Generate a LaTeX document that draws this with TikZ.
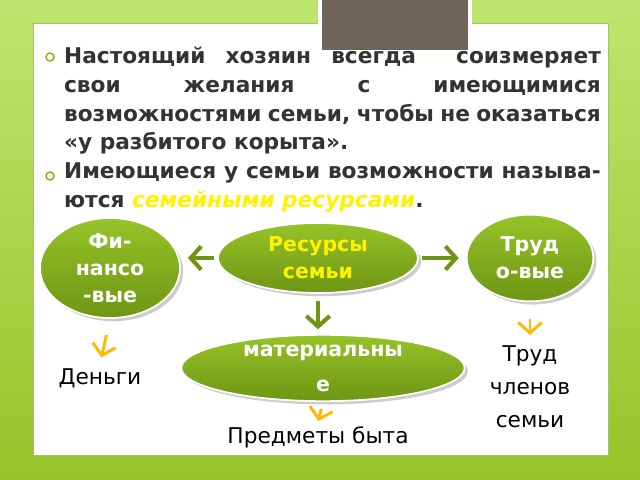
\documentclass[tikz,border=0pt]{standalone}
\usepackage{fontspec}
\setmainfont{DejaVu Sans}
\usetikzlibrary{arrows.meta, positioning, shapes.geometric, shadows}
\definecolor{leaf}{RGB}{110,150,20}
\definecolor{leaflight}{RGB}{150,195,40}
\definecolor{bgreen}{RGB}{190,230,110}
\definecolor{chev}{RGB}{255,185,0}
\definecolor{slate}{RGB}{110,100,90}
\begin{document}
\begin{tikzpicture}[x=0.03cm, y=-0.03cm, >={Straight Barb[length=9pt, width=20pt]},
    res/.style={ellipse, inner sep=0pt, top color=leaflight, bottom color=leaf, draw=white, line width=1.5pt,
      drop shadow={opacity=0.4}, text=white, font=\bfseries\fontsize{17.5}{23}\selectfont, align=center},
    leafarrow/.style={->, draw=leaf, line width=3.5pt},
    goldarrow/.style={->, draw=chev, line width=2.5pt, shorten <=14pt, shorten >=6pt},
    item/.style={font=\fontsize{18.5}{28}\selectfont, align=center}]
    \shade[top color=bgreen, bottom color=leaflight] (0,0) rectangle (640,480);
    \useasboundingbox (0,0) rectangle (640,480);
    \filldraw[fill=white, draw=leaf!60, line width=0.8pt] (33,23) rectangle (608,455);
    \filldraw[fill=slate, draw=white, line width=3pt] (320,-5) rectangle (470,52);

    \node[anchor=north west, text width=16.1cm, align=justify, font=\bfseries\fontsize{18.5}{24.5}\selectfont, text=black!80] (intro) at (60,43)
      {Настоящий хозяин всегда ~соизмеряет свои желания с имеющимися возможностями семьи, чтобы не оказаться «у разбитого корыта».\par
       Имеющиеся у семьи возможности называ-ются {\color{yellow}\itshape семейными ресурсами}.};
    \foreach \y in {57,176} \draw[leaf!80!yellow, line width=1.2pt] (50,\y) circle (4);

    \node[res, minimum width=4.2cm, minimum height=3cm, text width=2.3cm] (fin) at (110,268) {Фи-\\нансо\\-вые};
    \node[res, minimum width=6cm, minimum height=2.1cm, text=yellow] (sem) at (318,258) {Ресурсы\\семьи};
    \node[res, minimum width=3.8cm, minimum height=2.6cm] (trud) at (530,258) {Труд\\о-вые};
    \node[res, minimum width=8.5cm, minimum height=1.3cm, font=\bfseries\fontsize{17.5}{30}\selectfont] (mat) at (323,368) {материальны\\е};

    \node[item] (money) at (100,378) {Деньги};
    \node[item] (work) at (530,387) {Труд\\членов\\семьи};
    \node[item] (goods) at (318,437) {Предметы быта};

    \draw[leafarrow, shorten <=3pt, shorten >=6pt] (sem.west) -- (sem.west -| fin.east);
    \draw[leafarrow, shorten <=3pt, shorten >=6pt] (sem.east) -- (sem.east -| trud.west);
    \draw[leafarrow, shorten <=6pt, shorten >=4pt] (sem.south) -- (sem.south |- mat.north);
    \draw[goldarrow] (fin.south) -- (money.north);
    \draw[goldarrow] (trud.south) -- (work.north);
    \draw[goldarrow, shorten <=6pt, shorten >=1pt] (mat.south) -- (goods.north);
\end{tikzpicture}
\end{document}
